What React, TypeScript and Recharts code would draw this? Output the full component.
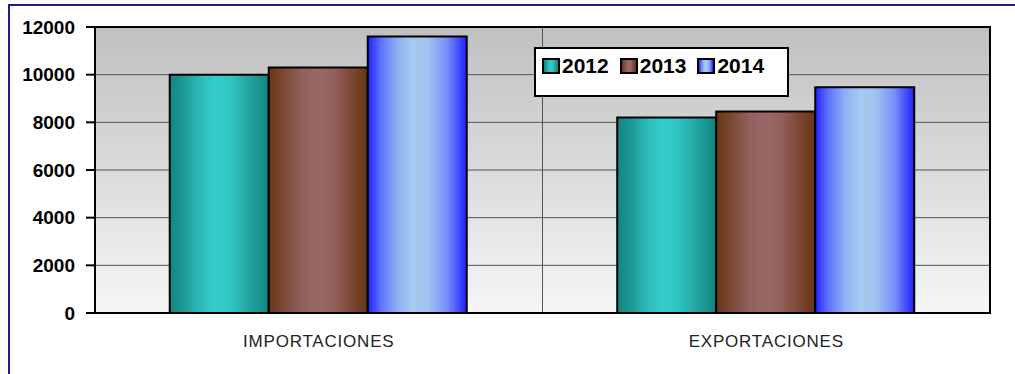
import { BarChart, Bar, XAxis, YAxis, CartesianGrid, Legend } from 'recharts';

const categories = ['IMPORTACIONES', 'EXPORTACIONES'];
const years = ['2012', '2013', '2014'];
const values2012 = [10000, 8200];
const values2013 = [10300, 8450];
const values2014 = [11600, 9470];
const yTicks = [0, 2000, 4000, 6000, 8000, 10000, 12000];

const data = categories.map((name, i) => ({
  name,
  y2012: values2012[i],
  y2013: values2013[i],
  y2014: values2014[i],
}));

// horizontal "cylinder" shading for each series
const GRADIENTS: Record<string, [number, string][]> = {
  g2012: [[0, '#138782'], [0.12, '#1a9590'], [0.3, '#2cbab7'], [0.45, '#33cccc'], [0.6, '#31c6c4'], [0.8, '#22a6a2'], [1, '#128580']],
  g2013: [[0, '#6b3616'], [0.15, '#7a4a36'], [0.35, '#956060'], [0.5, '#9a6666'], [0.65, '#946060'], [0.85, '#7a4530'], [1, '#6b3516']],
  g2014: [[0, '#2020ff'], [0.12, '#5a6cff'], [0.3, '#8fb0f3'], [0.45, '#a6caf0'], [0.6, '#a2c4f0'], [0.8, '#7890fa'], [1, '#2020ff']],
};

const cssGradient = (id: string) =>
  `linear-gradient(to right, ${GRADIENTS[id].map(([o, c]) => `${c} ${o * 100}%`).join(', ')})`;

const FONT = '"Liberation Sans", Arial, sans-serif';
const BORDER = { stroke: '#000', strokeWidth: 2 };

const W = 1015;
const H = 374;
const MARGIN = { top: 27, right: 25, left: 15, bottom: 21 };
const Y_AXIS_W = 80;
const X_AXIS_H = 40;

function LegendBox() {
  return (
    <div
      style={{
        width: 245,
        height: 39,
        background: '#fff',
        border: '2px solid #000',
        fontFamily: FONT,
        fontWeight: 'bold',
        fontSize: 21,
        display: 'flex',
        alignItems: 'flex-start',
        paddingTop: 7,
        paddingLeft: 6,
        boxSizing: 'content-box',
      }}
    >
      {years.map((y) => (
        <div key={y} style={{ display: 'flex', alignItems: 'center', marginRight: 11, lineHeight: '20px' }}>
          <span
            style={{
              display: 'inline-block',
              width: 14,
              height: 12,
              border: '2px solid #000',
              background: cssGradient('g' + y),
              marginRight: 2,
            }}
          />
          <span>{y}</span>
        </div>
      ))}
    </div>
  );
}

export default function App() {
  // plot area, from the margins and axis sizes given to the chart
  const plotLeft = MARGIN.left + Y_AXIS_W;
  const plotTop = MARGIN.top;
  const plotW = W - plotLeft - MARGIN.right;
  const plotH = H - plotTop - MARGIN.bottom - X_AXIS_H;

  return (
    <div style={{ position: 'absolute', left: 0, top: 0, width: W, height: H, background: '#fff' }}>
      <div
        style={{
          position: 'absolute',
          left: 8,
          top: 4,
          width: 1020,
          height: 380,
          borderLeft: '2px solid #1c1c8c',
          borderTop: '2px solid #1c1c8c',
        }}
      />
      <BarChart
        width={W}
        height={H}
        data={data}
        margin={MARGIN}
        barGap={0}
        barCategoryGap="16.7%"
        style={{ position: 'absolute', left: 0, top: 0 }}
      >
        <defs>
          <linearGradient id="plotBg" x1="0" y1="0" x2="0" y2="1">
            <stop offset="0%" stopColor="#c0c0c0" />
            <stop offset="100%" stopColor="#f6f6f6" />
          </linearGradient>
          {Object.keys(GRADIENTS).map((id) => (
            <linearGradient key={id} id={id} x1="0" y1="0" x2="1" y2="0">
              {GRADIENTS[id].map(([o, c]) => (
                <stop key={o} offset={`${o * 100}%`} stopColor={c} />
              ))}
            </linearGradient>
          ))}
        </defs>
        <CartesianGrid
          stroke="#555"
          strokeWidth={1}
          fill="url(#plotBg)"
          fillOpacity={1}
          // single vertical divider between the two categories
          verticalCoordinatesGenerator={({ offset }: any) => [offset.left + offset.width / 2]}
        />
        <XAxis
          dataKey="name"
          height={X_AXIS_H}
          axisLine={BORDER}
          tickLine={false}
          tickSize={0}
          tickMargin={22}
          tick={{ fill: '#222', fontSize: 17, fontFamily: FONT, letterSpacing: 0.8 }}
        />
        <YAxis
          width={Y_AXIS_W}
          domain={[0, 12000]}
          ticks={yTicks}
          interval={0}
          axisLine={BORDER}
          tickLine={BORDER}
          tickSize={9}
          tickMargin={11}
          tick={{ fill: '#000', fontSize: 19, fontWeight: 'bold', fontFamily: FONT }}
        />
        {years.map((y) => (
          <Bar
            key={y}
            dataKey={'y' + y}
            name={y}
            fill={`url(#g${y})`}
            stroke="#000"
            strokeWidth={2}
            isAnimationActive={false}
          />
        ))}
        <Legend
          layout="horizontal"
          verticalAlign="middle"
          align="center"
          wrapperStyle={{ left: 534, top: 47, width: 249 }}
          content={() => <LegendBox />}
        />
      </BarChart>
      {/* black frame round the plot area */}
      <div
        style={{
          position: 'absolute',
          left: plotLeft - 1,
          top: plotTop - 1,
          width: plotW + 2,
          height: plotH + 2,
          border: '2px solid #000',
          boxSizing: 'border-box',
          pointerEvents: 'none',
        }}
      />
    </div>
  );
}
